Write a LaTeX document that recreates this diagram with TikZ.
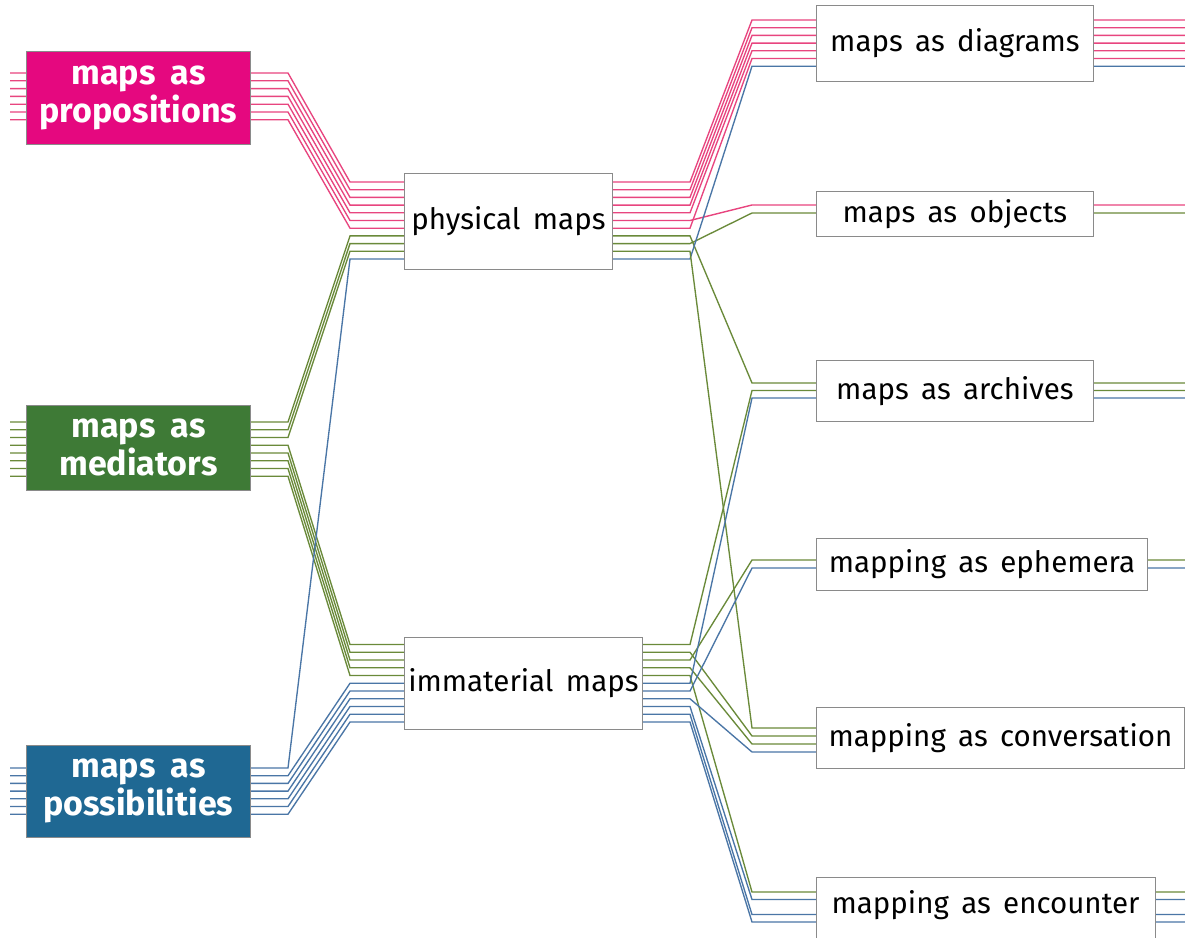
\documentclass[tikz,border=0pt]{standalone}
\usepackage{fontspec}
\setmainfont{Fira Sans}
\definecolor{pkbox}{HTML}{E5087F}
\definecolor{gnbox}{HTML}{3E7A36}
\definecolor{blbox}{HTML}{1F6893}
\definecolor{pkl}{HTML}{E8457F}
\definecolor{gnl}{HTML}{6A8A3A}
\definecolor{bll}{HTML}{4A76A6}
\definecolor{frame}{HTML}{8A8A8A}
\begin{document}
\begin{tikzpicture}[x=1pt,y=-1pt,
  wire/.style={line width=1.35pt},
  pw/.style={wire,pkl}, gw/.style={wire,gnl}, bw/.style={wire,bll},
  srcbox/.style={draw=frame,line width=0.8pt,anchor=north west,inner sep=0pt,
     text=white,align=center,font=\fontsize{34}{38}\selectfont\bfseries,
     execute at begin node={\spaceskip=0.45em\relax}},
  tbox/.style={draw=frame,fill=white,line width=0.9pt,anchor=north west,inner sep=0pt,
     font=\fontsize{29.5}{32}\selectfont, execute at begin node={\spaceskip=0.42em\relax}},
  ttext/.style={inner sep=0pt,font=\fontsize{29.5}{32}\selectfont, execute at begin node={\spaceskip=0.42em\relax}}
]
\useasboundingbox (0,0) rectangle (1185,937);
\fill[white] (0,0) rectangle (1185,937);

% ---------- left side wires ----------
% propositions -> physical maps
\foreach \i in {0,...,6}
  \draw[pw] (10,{73+7.8*\i}) -- (288,{73+7.8*\i}) -- (350,{182+7.7*\i}) -- (404,{182+7.7*\i});
% mediators -> physical maps (green rows 7..9)
\foreach \j in {0,1,2}
  \draw[gw] (10,{422+7.75*\j}) -- (288,{422+7.75*\j}) -- (350,{182+7.7*(\j+7)}) -- (404,{182+7.7*(\j+7)});
% mediators -> immaterial maps
\foreach \j in {3,...,7}
  \draw[gw] (10,{422+7.75*\j}) -- (288,{422+7.75*\j}) -- (350,{644.5+7.75*(\j-3)}) -- (404,{644.5+7.75*(\j-3)});
% possibilities -> physical maps (blue row 10)
\draw[bw] (10,768) -- (288,768) -- (350,259) -- (404,259);
% possibilities -> immaterial maps
\foreach \n in {1,...,6}
  \draw[bw] (10,{768+7.7*\n}) -- (288,{768+7.7*\n}) -- (350,{644.5+7.75*(\n+4)}) -- (404,{644.5+7.75*(\n+4)});

% ---------- right side wires from physical maps ----------
\foreach \k/\yd/\c in {0/20/pw,1/27.7/pw,2/35.4/pw,3/43.1/pw,4/50.8/pw,5/205/pw,6/58.5/pw,
                      7/383/gw,8/213/gw,10/66.2/bw}
  \draw[\c] (600,{182+7.7*\k}) -- (690,{182+7.7*\k}) -- (752,\yd) -- (1185,\yd);
\draw[gw] (600,{182+7.7*9}) -- (690,{182+7.7*9}) -- (752,728) -- (1000,728);

% ---------- right side wires from immaterial maps ----------
\foreach \m/\yd/\c/\xe in {0/390.5/gw/1185,1/736/gw/1000,2/560/gw/1185,3/744/gw/1000,4/892/gw/1185,
                          5/398/bw/1185,6/568/bw/1185,7/752/bw/1000,8/899.5/bw/1185,9/914.5/bw/1185,10/922/bw/1185}
  \draw[\c] (630,{644.5+7.75*\m}) -- (690,{644.5+7.75*\m}) -- (752,\yd) -- (\xe,\yd);

% ---------- source boxes ----------
\node[srcbox,fill=pkbox,minimum width=224pt,minimum height=93pt] (prop) at (26,51) {maps as\\propositions};
\node[srcbox,fill=gnbox,minimum width=224pt,minimum height=85pt] (med) at (26,405) {maps as\\mediators};
\node[srcbox,fill=blbox,minimum width=224pt,minimum height=92pt] (poss) at (26,745) {maps as\\possibilities};

% ---------- intermediate boxes ----------
\node[tbox,minimum width=208pt,minimum height=96pt] (phys) at (404,173) {physical maps};
\node[tbox,minimum width=238pt,minimum height=92pt] (imm) at (404,637) {immaterial maps};

% ---------- target boxes ----------
\node[tbox,minimum width=277pt,minimum height=76pt] (diag) at (816,5) {maps as diagrams};
\node[tbox,minimum width=277pt,minimum height=45pt] (obj) at (816,191) {maps as objects};
\node[tbox,minimum width=277pt,minimum height=61pt] (arch) at (816,360) {maps as archives};
\node[tbox,minimum width=331pt,minimum height=52pt] (eph) at (816,538) {mapping as ephemera};
\node[tbox,minimum width=368pt,minimum height=61pt] (conv) at (816,707) {mapping as conversation};
\node[tbox,minimum width=339pt,minimum height=80pt] (enc) at (816,877) {};
\node[ttext] (enctext) at (985.5,905) {mapping as encounter};
\end{tikzpicture}
\end{document}
